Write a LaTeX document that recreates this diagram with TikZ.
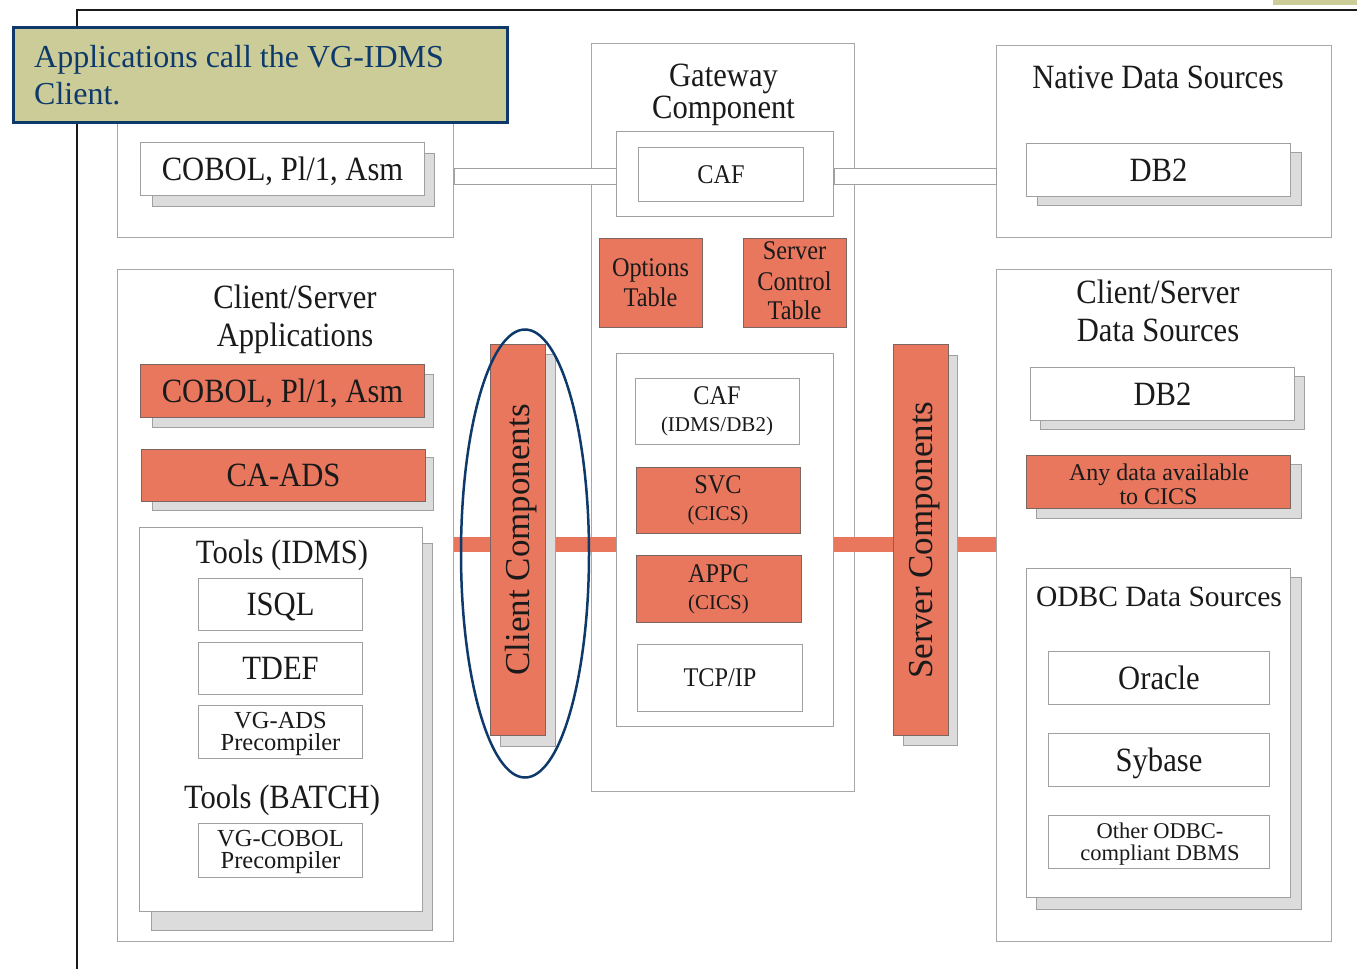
\documentclass[tikz,border=0pt]{standalone}
\usepackage{fontspec}
\setmainfont{Liberation Serif}
\newfontfamily\condf[FakeStretch=0.9]{Liberation Serif}
\newfontfamily\normf{Liberation Serif}
\usetikzlibrary{shapes.geometric}

\definecolor{salmon}{HTML}{E8775E}
\definecolor{salmonline}{HTML}{7A6560}
\definecolor{boxline}{HTML}{A0A0A0}
\definecolor{contline}{HTML}{A8A8A8}
\definecolor{shade}{HTML}{DCDCDC}
\definecolor{navy}{HTML}{0E3A6B}
\definecolor{khaki}{HTML}{CCCC99}
\definecolor{ink}{HTML}{1A1A1A}

\newcommand\bx[7]{\node[#1, anchor=north west, inner sep=0pt, minimum width={(#4-#2)*1pt}, minimum height={(#5-#3)*1pt}] (#6) at (#2,#3) {#7};}

\tikzset{
  cont/.style={draw=contline, fill=white, line width=1.3pt},
  wbox/.style={draw=boxline, fill=white, line width=1pt},
  rbox/.style={draw=salmonline, fill=salmon, line width=1pt},
  shbox/.style={draw=boxline, fill=shade, line width=1pt},
  big/.style={font=\condf\fontsize{34}{34}\selectfont, text=ink, text height=22.5pt, text depth=0pt},
  mid/.style={font=\condf\fontsize{27}{27}\selectfont, text=ink, text height=17.9pt, text depth=0pt},
  sm/.style={font=\normf\fontsize{21}{21}\selectfont, text=ink},
  smb/.style={font=\normf\fontsize{24.5}{24.5}\selectfont, text=ink},
  sma/.style={font=\normf\fontsize{24}{24}\selectfont, text=ink},
  smo/.style={font=\normf\fontsize{22.5}{22.5}\selectfont, text=ink},
  odbcf/.style={font=\normf\fontsize{29.5}{29.5}\selectfont, text=ink},
  rot/.style={font=\normf\fontsize{35}{35}\selectfont, text=ink, text height=23.2pt, text depth=0pt, inner sep=0pt},
  lbl/.style={anchor=base, inner sep=0pt},
  band/.style={draw=salmon, line width=15pt},
}

\begin{document}
\begin{tikzpicture}[x=1pt,y=-1pt]
\useasboundingbox[fill=white] (0,0) rectangle (1357,969);
\fill[khaki] (1273,0) rectangle (1357,4.5);
\draw[ink, line width=1.8pt] (77,969) -- (77,10) -- (1357,10);

% containers
\bx{cont}{117}{45}{453}{237}{appTop}{}
\bx{cont}{591}{43}{854}{791}{gw}{}
\bx{cont}{996}{45}{1331}{237}{native}{}
\bx{cont}{117}{269}{453}{941}{csApp}{}
\bx{cont}{996}{269}{1331}{941}{csData}{}

% gateway component
\node[big,lbl] (gwT1) at (723.5,86) {Gateway};
\node[big,lbl] (gwT2) at (723.5,118) {Component};
\bx{wbox}{616}{131}{833}{216}{cafOuter}{}
\bx{wbox,mid}{638}{147}{803}{201}{caf}{CAF}
\bx{rbox}{599}{238}{702}{327}{opt}{}
\node[mid,lbl] (optT1) at (650.5,276) {Options};
\node[mid,lbl] (optT2) at (650.5,306) {Table};
\bx{rbox}{743}{238}{846}{327}{sct}{}
\node[mid,lbl] (sctT1) at (794.5,259) {Server};
\node[mid,lbl] (sctT2) at (794.5,290) {Control};
\node[mid,lbl] (sctT3) at (794.5,319) {Table};
\bx{wbox}{616}{353}{833}{726}{proto}{}
\bx{wbox}{635}{378}{799}{444}{cafdb}{}
\node[mid,lbl] (cafdbT1) at (717,404) {CAF};
\node[sm,lbl] (cafdbT2) at (717,431) {(IDMS/DB2)};
\bx{rbox}{636}{467}{800}{533}{svc}{}
\node[mid,lbl] (svcT1) at (718,493) {SVC};
\node[sm,lbl] (svcT2) at (718,520) {(CICS)};
\bx{rbox}{636}{555}{801}{622}{appc}{}
\node[mid,lbl] (appcT1) at (718.5,582) {APPC};
\node[sm,lbl] (appcT2) at (718.5,609) {(CICS)};
\bx{wbox,mid}{637}{644}{802}{711}{tcp}{TCP/IP}

% top-left applications
\bx{shbox}{152}{153}{434}{206}{cobolAsh}{}
\bx{wbox,big}{140}{142}{424}{195}{cobolA}{COBOL, Pl/1, Asm}

% native data sources
\node[big,lbl] (nativeT) at (1158,88) {Native Data Sources};
\bx{shbox}{1037}{152}{1301}{205}{db2Ash}{}
\bx{wbox,big}{1026}{143}{1290}{196}{db2A}{DB2}

% connector bars to CAF
\coordinate (yA) at (0,168);
\coordinate (yB) at (0,184);
\draw[wbox] (appTop.east |- yA) rectangle (cafOuter.west |- yB);
\draw[wbox] (cafOuter.east |- yA) rectangle (native.west |- yB);

% client/server applications
\node[big,lbl] (csAppT1) at (295,308) {Client/Server};
\node[big,lbl] (csAppT2) at (295,346) {Applications};
\bx{shbox}{152}{374}{433}{427}{cobolBsh}{}
\bx{rbox,big}{140}{364}{424}{417}{cobolB}{COBOL, Pl/1, Asm}
\bx{shbox}{152}{457}{433}{510}{cadssh}{}
\bx{rbox,big}{141}{449}{425}{501}{cads}{CA-ADS}
\bx{shbox}{151}{543}{432}{930}{toolsh}{}
\bx{wbox}{139}{527}{422}{911}{tools}{}
\node[big,lbl] (toolsT1) at (282,563) {Tools (IDMS)};
\bx{wbox,big}{198}{578}{362}{630}{isql}{ISQL}
\bx{wbox,big}{198}{642}{362}{694}{tdef}{TDEF}
\bx{wbox}{198}{705}{362}{758}{vgads}{}
\node[smb,lbl] (vgadsT1) at (280.5,728.5) {VG-ADS};
\node[smb,lbl] (vgadsT2) at (280.5,750.5) {Precompiler};
\node[big,lbl] (toolsT2) at (282,808) {Tools (BATCH)};
\bx{wbox}{198}{823}{362}{877}{vgcob}{}
\node[smb,lbl] (vgcobT1) at (280.5,846.5) {VG-COBOL};
\node[smb,lbl] (vgcobT2) at (280.5,868.5) {Precompiler};

% client/server data sources
\node[big,lbl] (csDataT1) at (1158,303) {Client/Server};
\node[big,lbl] (csDataT2) at (1158,341) {Data Sources};
\bx{shbox}{1040}{376}{1304}{429}{db2Bsh}{}
\bx{wbox,big}{1030}{367}{1294}{420}{db2B}{DB2}
\bx{shbox}{1036}{464}{1301}{518}{anysh}{}
\bx{rbox}{1026}{455}{1290}{508}{any}{}
\node[sma,lbl] (anyT1) at (1159,480) {Any data available};
\node[sma,lbl] (anyT2) at (1158.5,504) {to CICS};
\bx{shbox}{1036}{577}{1301}{909}{odbcsh}{}
\bx{wbox}{1026}{568}{1290}{897}{odbc}{}
\node[odbcf,lbl] (odbcT) at (1159,606) {ODBC Data Sources};
\bx{wbox,big}{1048}{651}{1269}{704}{oracle}{Oracle}
\bx{wbox,big}{1048}{733}{1269}{786}{sybase}{Sybase}
\bx{wbox}{1048}{815}{1269}{868}{other}{}
\node[smo,lbl] (otherT1) at (1160,838) {Other ODBC-};
\node[smo,lbl] (otherT2) at (1160,860) {compliant DBMS};

% salmon bands
\coordinate (yBand) at (0,544.5);
\draw[band] (csApp.east |- yBand) -- (proto.west |- yBand);
\draw[band] (proto.east |- yBand) -- (csData.west |- yBand);

% component bars
\bx{shbox}{500}{354}{555}{746}{ccsh}{}
\bx{rbox}{490}{344}{545}{735}{cc}{}
\node[rot, rotate=90] (ccT) at (cc.center) {Client Components};
\bx{shbox}{903}{355}{957}{745}{scsh}{}
\bx{rbox}{893}{344}{948}{735}{sc}{}
\node[rot, rotate=90] (scT) at (sc.center) {Server Components};

% ellipse
\node[draw=navy, line width=2.5pt, ellipse, minimum width=128pt, minimum height=448pt, inner sep=0pt] (ell) at (525,553.5) {};

% callout
\node[draw=navy, fill=khaki, line width=3pt, anchor=north west, minimum width=494pt, minimum height=95pt, inner sep=0pt] (callout) at (12,26) {};
\node[anchor=base west, inner sep=0pt, font=\normf\fontsize{32}{37}\selectfont, text=navy] (callT1) at (34,67) {Applications call the VG-IDMS};
\node[anchor=base west, inner sep=0pt, font=\normf\fontsize{32}{37}\selectfont, text=navy] (callT2) at (34,104) {Client.};
\end{tikzpicture}
\end{document}
